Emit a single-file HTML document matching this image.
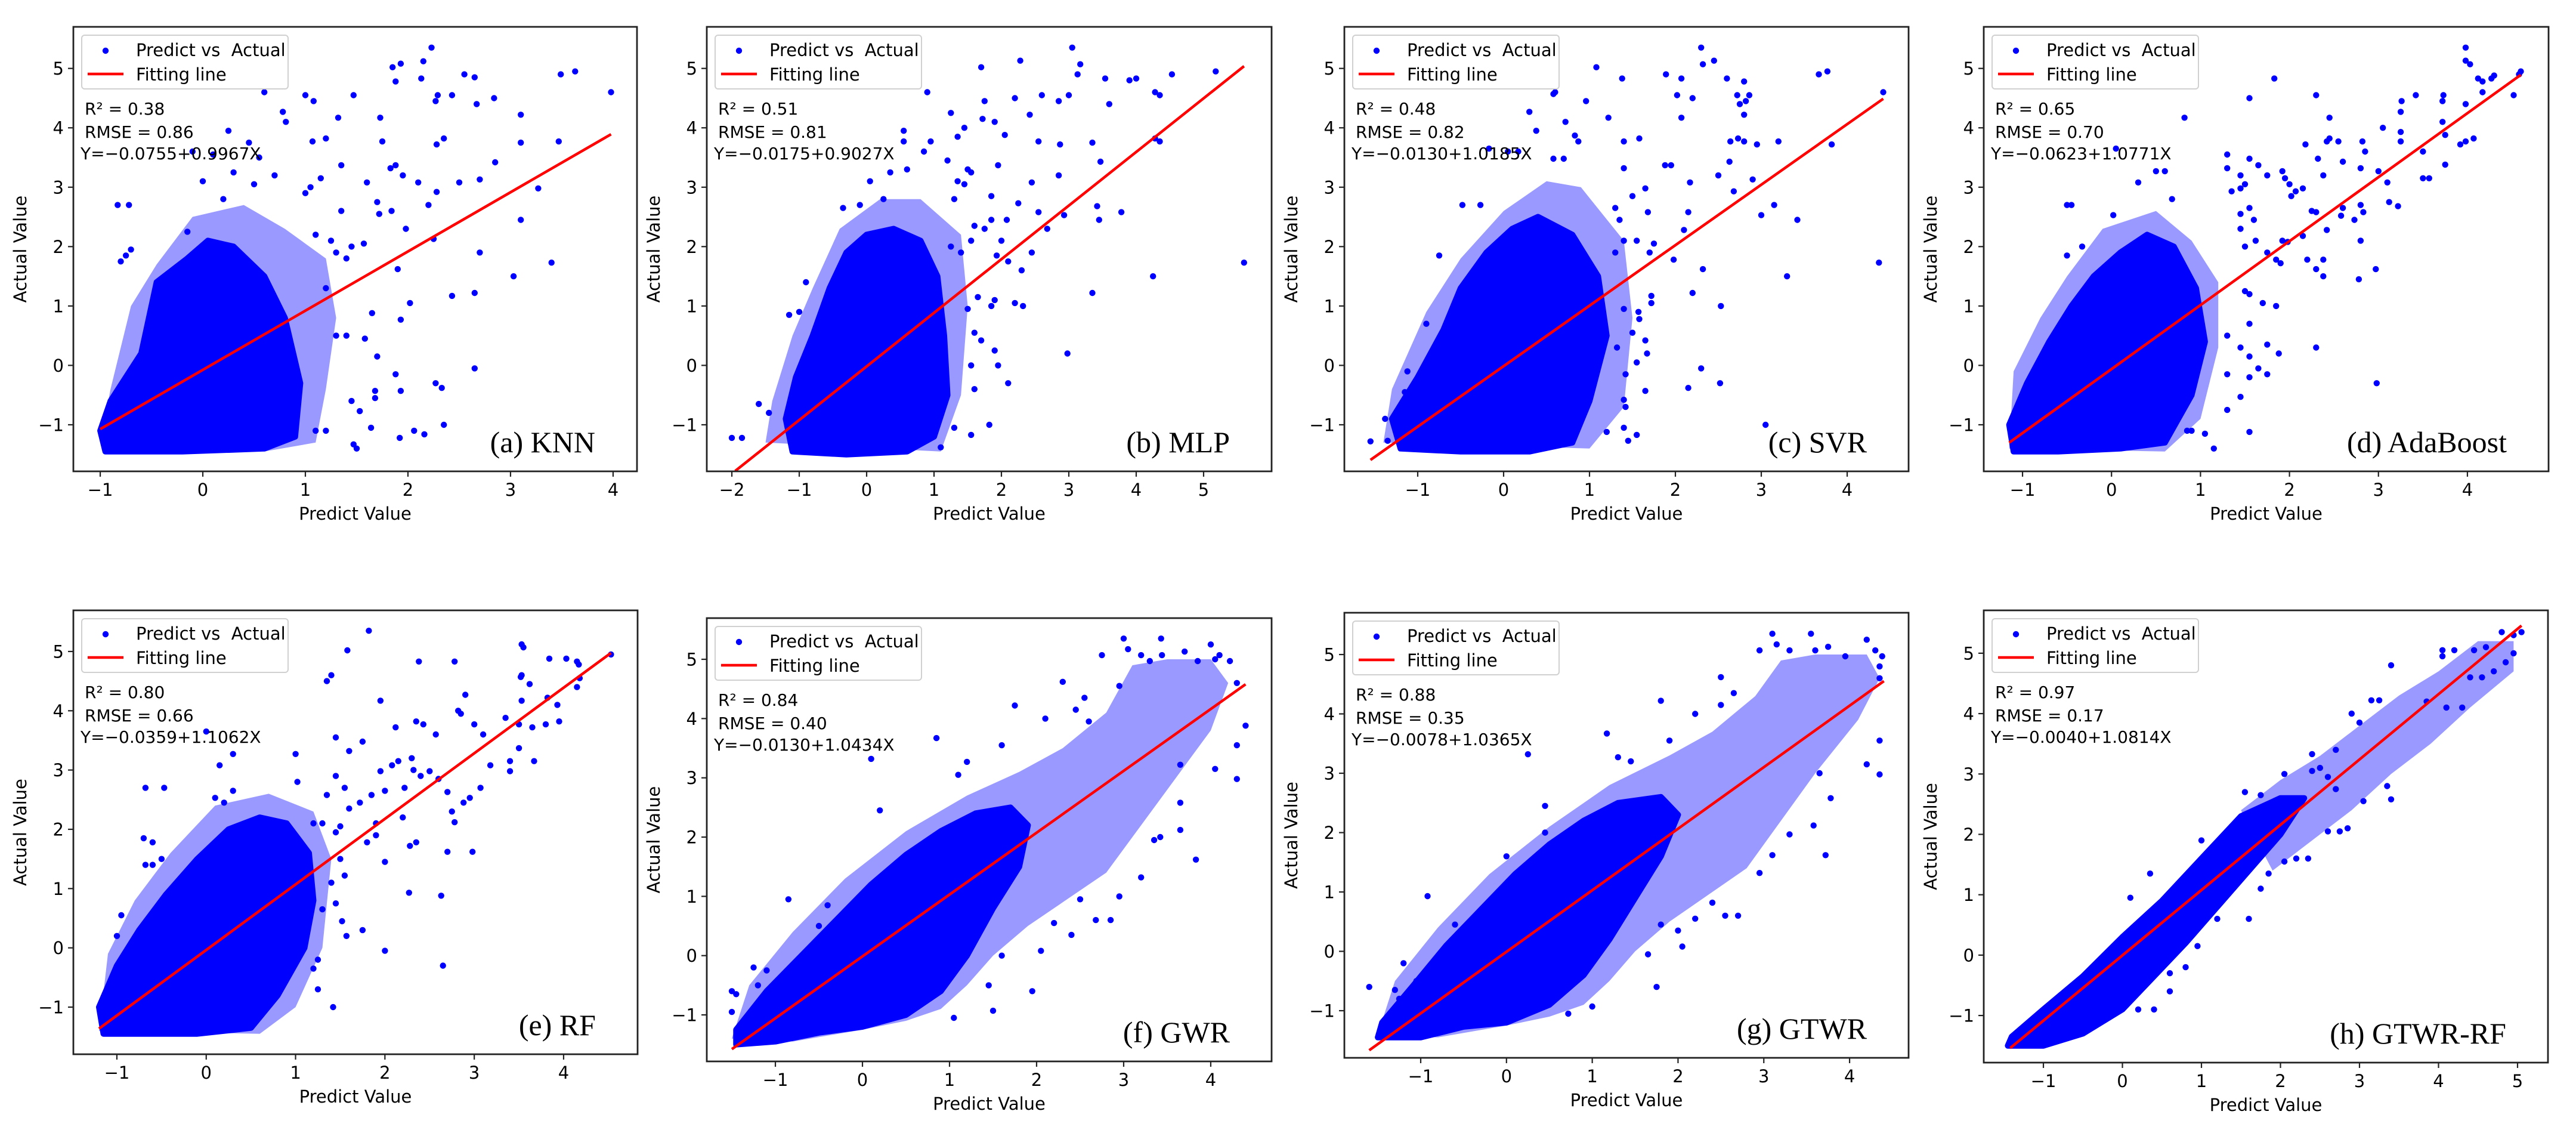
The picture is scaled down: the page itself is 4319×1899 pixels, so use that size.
<!DOCTYPE html>
<html><head><meta charset="utf-8"><title>Predict vs Actual scatter panels</title>
<style>
html,body{margin:0;padding:0;background:#fff;}
svg{display:block;}
text{font-family:"DejaVu Sans","Liberation Sans",sans-serif;fill:#000;}
.serif{font-family:"Liberation Serif","DejaVu Serif",serif;}
</style></head>
<body>
<svg id="fig" width="4319" height="1899" viewBox="0 0 4319 1899" xmlns="http://www.w3.org/2000/svg"></svg>
<script>
// ---------- data ----------
const yTicks = [-1,0,1,2,3,4,5];
const xTicksA = [-1,0,1,2,3,4];
const xTicksB = [-2,-1,0,1,2,3,4,5];
const xTicksH = [-1,0,1,2,3,4,5];

const knnFit = [-0.0755, 0.9967];
const knnFitRange = [-1.0, 3.98];
const knnCloud = [[-0.95,-1.45],[-1.0,-1.1],[-0.9,-0.6],[-0.6,0.2],[-0.45,1.4],[-0.15,1.8],[0.05,2.1],[0.3,2.0],[0.6,1.5],[0.8,0.8],[0.95,-0.3],[0.9,-1.2],[0.6,-1.4],[-0.2,-1.45]];
const knnHalo = [[-1.0,-1.3],[-0.9,-0.4],[-0.7,1.0],[-0.45,1.7],[-0.1,2.5],[0.4,2.7],[0.8,2.3],[1.2,1.8],[1.3,0.8],[1.2,-0.4],[1.1,-1.3],[0.6,-1.45]];
const knnPoints = [[-0.83,2.7],[-0.72,2.7],[-0.75,1.85],[-0.7,1.95],[-0.8,1.75],[0.6,4.6],[1.0,4.55],[1.08,4.45],[1.47,4.55],[1.85,5.02],[1.93,5.08],[1.88,4.78],[2.15,5.12],[2.23,5.35],[2.13,4.83],[2.27,4.45],[2.29,4.55],[2.43,4.55],[2.55,4.9],[2.65,4.85],[2.67,4.4],[2.84,4.5],[3.49,4.9],[3.63,4.95],[3.98,4.6],[0.78,4.27],[0.81,4.1],[1.32,4.17],[1.73,4.17],[1.75,3.77],[1.07,3.77],[1.2,3.82],[1.35,3.37],[2.35,3.82],[2.28,3.72],[3.1,4.22],[3.1,3.75],[3.47,3.77],[2.85,3.42],[1.83,3.32],[1.88,3.37],[1.95,3.2],[2.1,3.08],[2.5,3.08],[2.7,3.13],[3.27,2.98],[2.28,2.92],[1.6,3.08],[1.7,2.75],[1.72,2.55],[1.84,2.6],[2.2,2.7],[3.1,2.45],[1.98,2.3],[2.25,2.13],[2.7,1.9],[3.4,1.73],[3.03,1.5],[1.9,1.62],[1.57,2.05],[2.65,1.22],[2.43,1.17],[2.02,1.05],[1.65,0.88],[1.93,0.77],[1.58,0.45],[1.7,0.15],[1.88,-0.15],[1.93,-0.43],[2.27,-0.3],[2.33,-0.38],[2.65,-0.05],[1.68,-0.43],[1.68,-0.55],[1.45,-0.6],[1.53,-0.77],[1.64,-1.05],[1.92,-1.22],[2.06,-1.1],[2.16,-1.16],[2.35,-1.0],[1.47,-1.33],[1.5,-1.4],[1.1,-1.1],[1.2,-1.1],[1.3,0.5],[1.4,0.5],[1.2,1.3],[1.3,1.9],[1.4,1.8],[1.45,2.0],[1.1,2.2],[1.25,2.1],[1.0,2.9],[1.05,3.0],[1.15,3.15],[1.35,2.6],[0.7,3.2],[0.55,3.5],[0.45,3.75],[0.25,3.95],[0.3,3.25],[0.5,3.05],[-0.1,3.6],[0.1,3.55],[0.0,3.1],[0.2,2.8],[-0.15,2.25]];

const mlpFit = [-0.0175, 0.9027];
const mlpFitRange = [-1.95, 5.6];
const mlpCloud = [[-1.1,-1.45],[-1.2,-0.9],[-1.05,-0.2],[-0.8,0.5],[-0.55,1.3],[-0.3,1.9],[0.0,2.2],[0.4,2.3],[0.8,2.1],[1.05,1.5],[1.15,0.5],[1.2,-0.5],[1.0,-1.2],[0.6,-1.45],[-0.3,-1.5]];
const mlpHalo = [[-1.5,-1.3],[-1.4,-0.6],[-1.1,0.5],[-0.8,1.3],[-0.4,2.3],[0.2,2.8],[0.8,2.8],[1.4,2.2],[1.5,1.0],[1.4,-0.5],[1.1,-1.45]];
const mlpPoints = [[-2.0,-1.22],[-1.85,-1.22],[-1.6,-0.65],[-1.45,-0.8],[-1.15,0.85],[-1.0,0.9],[-0.9,1.4],[-0.35,2.65],[-0.1,2.7],[0.05,3.1],[0.25,2.8],[0.35,3.25],[0.55,3.95],[0.55,3.77],[0.6,3.3],[0.85,3.6],[0.9,4.6],[0.95,3.77],[1.25,4.25],[1.35,3.85],[1.45,4.0],[1.5,3.3],[1.7,5.02],[1.72,4.15],[1.75,4.45],[1.9,4.1],[1.95,3.37],[2.05,3.88],[2.2,4.5],[2.28,5.13],[2.42,4.22],[2.55,3.77],[2.6,4.55],[2.85,4.45],[2.87,3.72],[3.0,4.55],[3.05,5.35],[3.13,4.9],[3.17,5.07],[3.35,3.75],[3.47,3.43],[3.54,4.83],[3.6,4.4],[3.9,4.8],[4.0,4.83],[4.28,4.6],[4.35,4.55],[4.53,4.9],[5.18,4.95],[4.28,3.82],[4.35,3.77],[5.6,1.73],[4.25,1.5],[3.35,1.22],[3.78,2.58],[3.42,2.68],[3.45,2.45],[2.55,2.58],[2.85,3.2],[2.93,2.53],[2.68,2.3],[2.45,3.08],[2.25,2.73],[2.08,2.45],[2.0,2.1],[1.93,1.85],[2.1,1.75],[2.3,1.6],[2.45,1.9],[2.2,1.05],[2.32,1.0],[1.9,1.1],[1.85,1.0],[1.65,1.15],[1.6,0.55],[1.7,0.42],[1.55,0.0],[1.9,0.25],[1.95,0.0],[2.1,-0.3],[1.6,-0.4],[1.3,-1.05],[1.55,-1.17],[1.82,-1.0],[2.98,0.2],[1.1,-1.38],[1.5,0.95],[1.4,1.9],[1.55,2.1],[1.25,2.0],[1.6,2.35],[1.3,2.8],[1.2,3.45],[1.35,3.1],[1.45,3.05],[1.55,3.25],[1.75,2.3],[1.85,2.45],[1.85,2.85]];

const svrFit = [-0.0130, 1.0185];
const svrFitRange = [-1.55, 4.42];
const svrCloud = [[-1.2,-1.4],[-1.3,-0.9],[-1.0,-0.2],[-0.7,0.6],[-0.5,1.3],[-0.2,1.9],[0.1,2.3],[0.4,2.5],[0.8,2.2],[1.1,1.5],[1.2,0.5],[1.0,-0.6],[0.8,-1.3],[0.3,-1.45],[-0.5,-1.45]];
const svrHalo = [[-1.4,-1.3],[-1.3,-0.4],[-0.9,0.9],[-0.5,1.8],[0.0,2.6],[0.5,3.1],[0.9,3.0],[1.4,2.1],[1.5,0.8],[1.4,-0.7],[1.0,-1.4]];
const svrPoints = [[-1.55,-1.28],[-1.35,-1.27],[-1.38,-0.9],[-1.15,-0.45],[-1.12,-0.1],[-0.9,0.7],[-0.75,1.85],[-0.48,2.7],[-0.27,2.7],[-0.17,3.65],[0.05,3.6],[0.17,3.6],[0.3,4.27],[0.38,3.95],[0.58,4.57],[0.6,4.6],[0.58,3.48],[0.7,3.48],[0.72,4.1],[0.83,3.87],[0.87,3.77],[0.96,4.45],[1.08,5.02],[1.22,4.17],[1.38,4.83],[1.4,3.77],[1.4,3.32],[1.58,3.82],[1.5,2.85],[1.65,2.98],[1.68,2.58],[1.88,3.37],[1.95,3.37],[1.89,4.9],[2.02,4.55],[2.07,4.83],[2.07,4.17],[2.2,4.5],[2.3,5.35],[2.32,5.07],[2.45,5.13],[2.6,4.83],[2.5,3.2],[2.63,3.43],[2.64,3.77],[2.72,4.55],[2.75,4.4],[2.8,4.78],[2.8,4.22],[2.82,4.45],[2.86,4.55],[2.73,3.82],[2.8,3.77],[2.68,2.93],[2.9,3.13],[2.95,3.72],[3.0,2.53],[3.15,2.7],[3.2,3.77],[3.42,2.45],[3.67,4.9],[3.77,4.95],[3.82,3.72],[4.42,4.6],[4.37,1.73],[3.3,1.5],[2.32,1.62],[2.2,1.22],[2.53,1.0],[2.15,2.58],[2.1,2.28],[1.98,1.78],[2.17,3.08],[3.05,-1.0],[2.52,-0.3],[2.3,-0.05],[2.15,-0.38],[1.65,-0.43],[1.45,-1.27],[1.55,-1.17],[1.4,-1.05],[1.2,-1.12],[1.72,1.05],[1.72,1.17],[1.58,0.78],[1.57,0.9],[1.65,0.42],[1.67,0.2],[1.55,0.05],[1.42,-0.15],[1.4,-0.58],[1.42,-0.7],[1.32,0.3],[1.4,0.95],[1.5,0.55],[1.3,1.9],[1.4,2.1],[1.55,2.1],[1.7,1.9],[1.75,2.05],[1.35,2.45],[1.3,2.65]];

const adaFit = [-0.0623, 1.0771];
const adaFitRange = [-1.15, 4.6];
const adaCloud = [[-1.1,-1.45],[-1.15,-1.0],[-0.95,-0.3],[-0.7,0.4],[-0.45,1.0],[-0.2,1.5],[0.1,1.9],[0.4,2.2],[0.7,2.0],[0.95,1.3],[1.05,0.4],[0.9,-0.5],[0.6,-1.3],[0.1,-1.4],[-0.6,-1.45]];
const adaHalo = [[-1.15,-1.4],[-1.1,-0.1],[-0.8,0.8],[-0.5,1.5],[-0.1,2.3],[0.5,2.6],[0.9,2.1],[1.2,1.4],[1.2,0.3],[1.0,-0.9],[0.6,-1.45]];
const adaPoints = [[-0.5,2.7],[-0.45,2.7],[-0.33,2.0],[-0.5,1.85],[0.02,2.53],[0.3,3.08],[0.5,3.27],[0.6,3.27],[0.68,2.8],[0.82,4.17],[0.05,3.65],[1.3,3.55],[1.3,3.32],[1.35,2.93],[1.45,3.2],[1.45,2.98],[1.5,3.05],[1.55,3.48],[1.55,4.5],[1.65,3.37],[1.75,3.2],[1.83,4.83],[1.92,3.27],[1.95,3.15],[2.0,3.05],[2.02,2.85],[2.07,2.93],[2.15,2.98],[2.3,4.55],[2.32,3.48],[2.38,3.2],[2.45,4.17],[2.45,3.82],[2.42,3.77],[2.55,3.77],[2.6,3.43],[2.18,3.72],[2.8,3.32],[2.82,3.77],[2.85,3.6],[3.05,4.0],[3.0,3.27],[3.1,3.08],[3.25,4.27],[3.26,4.45],[3.25,3.93],[3.25,3.77],[3.42,4.55],[3.5,3.6],[3.5,3.15],[3.57,3.15],[3.72,4.45],[3.73,4.55],[3.72,4.1],[3.75,3.88],[3.75,3.38],[3.92,3.72],[3.98,3.77],[3.98,4.4],[3.98,5.35],[3.98,5.13],[4.03,5.07],[4.07,3.82],[4.12,4.83],[4.17,4.78],[4.17,4.6],[4.27,4.83],[4.3,4.88],[4.52,4.55],[4.6,4.95],[4.58,4.9],[3.12,2.75],[3.22,2.68],[2.8,2.7],[2.83,2.58],[2.73,2.45],[2.58,2.52],[2.6,2.65],[2.3,2.58],[2.25,2.6],[2.42,2.28],[1.98,2.08],[1.92,2.1],[2.15,2.18],[2.2,1.78],[2.38,1.78],[2.3,1.62],[2.38,1.5],[2.78,1.45],[2.8,2.1],[2.97,1.62],[1.9,1.72],[1.85,1.78],[1.75,1.9],[1.5,1.25],[1.55,1.2],[1.7,1.05],[1.85,1.0],[1.45,2.3],[1.45,2.55],[1.5,2.0],[1.55,2.65],[1.6,2.45],[1.62,2.1],[2.3,0.3],[2.98,-0.3],[1.88,0.2],[1.75,0.35],[1.55,0.7],[1.3,0.5],[1.45,0.3],[1.55,0.15],[1.65,-0.05],[1.75,-0.15],[1.55,-0.2],[1.3,-0.15],[1.3,-0.75],[1.45,-0.53],[1.55,-1.12],[1.15,-1.4],[1.05,-1.15],[0.85,-1.1],[0.9,-1.1]];

const rfFit = [-0.0359, 1.1062];
const rfFitRange = [-1.2, 4.53];
const rfCloud = [[-1.15,-1.45],[-1.2,-1.0],[-1.0,-0.3],[-0.75,0.3],[-0.45,0.9],[-0.1,1.5],[0.25,2.0],[0.6,2.2],[0.9,2.1],[1.15,1.6],[1.2,0.8],[1.1,0.0],[0.8,-0.8],[0.5,-1.35],[-0.1,-1.45],[-0.7,-1.45]];
const rfHalo = [[-1.2,-1.4],[-1.1,-0.1],[-0.8,0.8],[-0.4,1.6],[0.1,2.4],[0.7,2.6],[1.2,2.3],[1.4,1.5],[1.3,0.0],[1.0,-1.0],[0.6,-1.45]];
const rfPoints = [[-0.68,2.7],[-0.47,2.7],[-0.7,1.85],[-0.6,1.78],[-0.68,1.4],[-0.6,1.4],[-0.5,1.5],[-1.0,0.2],[-0.95,0.55],[0.0,3.65],[0.15,3.08],[0.3,3.27],[0.3,2.65],[0.1,2.53],[0.2,2.45],[1.0,3.27],[1.02,2.8],[1.35,4.5],[1.4,4.6],[1.45,3.55],[1.58,5.02],[1.6,3.32],[1.75,3.48],[1.82,5.35],[1.95,4.17],[2.12,3.72],[2.35,3.82],[2.38,4.83],[2.43,3.77],[2.57,3.6],[2.78,4.83],[2.82,4.0],[2.85,3.95],[2.9,4.27],[3.0,3.77],[3.1,3.6],[3.35,3.88],[3.5,3.77],[3.52,4.57],[3.53,4.6],[3.53,5.12],[3.55,5.07],[3.53,4.17],[3.62,4.45],[3.65,3.72],[3.8,3.77],[3.82,4.22],[3.84,4.88],[3.93,4.1],[3.95,3.82],[4.03,4.88],[4.15,4.83],[4.17,4.78],[4.15,4.4],[4.18,4.55],[4.53,4.95],[3.4,3.15],[3.4,2.98],[3.5,3.37],[3.67,3.15],[3.18,3.08],[2.15,3.15],[2.08,3.08],[2.0,2.65],[1.95,2.98],[2.3,3.2],[2.32,3.0],[2.4,2.9],[2.5,2.98],[2.22,2.7],[2.6,2.85],[2.7,2.63],[2.75,2.3],[2.78,2.12],[2.88,2.45],[2.95,2.53],[2.7,1.62],[2.98,1.62],[3.07,2.7],[2.28,1.72],[2.35,1.78],[2.2,2.2],[1.9,2.1],[1.85,2.58],[1.72,2.45],[1.6,2.35],[2.0,1.45],[1.9,1.9],[1.8,1.78],[2.27,0.93],[2.63,0.88],[2.65,-0.3],[2.0,-0.05],[1.75,0.3],[1.57,0.2],[1.52,0.45],[1.45,0.75],[1.5,1.5],[1.55,1.22],[1.4,1.1],[1.42,-1.0],[1.25,-0.7],[1.2,-0.35],[1.25,-0.2],[1.3,0.65],[1.35,2.58],[1.3,2.1],[1.2,2.1],[1.45,1.95],[1.5,2.05],[1.55,2.7],[1.45,2.9]];

const gwrFit = [-0.0130, 1.0434];
const gwrFitRange = [-1.5, 4.4];
const gwrCloud = [[-1.45,-1.5],[-1.45,-1.25],[-1.1,-0.6],[-0.7,0.0],[-0.3,0.6],[0.1,1.2],[0.5,1.7],[0.9,2.1],[1.3,2.4],[1.7,2.5],[1.9,2.2],[1.8,1.5],[1.5,0.8],[1.2,0.0],[0.9,-0.6],[0.5,-1.0],[0.0,-1.2],[-0.5,-1.3],[-1.0,-1.45]];
const gwrHalo = [[-1.5,-1.4],[-1.3,-0.5],[-0.8,0.4],[-0.2,1.3],[0.5,2.1],[1.2,2.7],[1.8,3.1],[2.3,3.5],[2.8,4.1],[3.1,4.9],[3.5,5.0],[4.0,5.0],[4.2,4.6],[4.0,3.8],[3.6,3.0],[3.2,2.2],[2.8,1.4],[2.3,0.9],[1.9,0.5],[1.5,0.0],[1.2,-0.5],[0.9,-0.9],[0.5,-1.1],[0.0,-1.25],[-0.8,-1.45]];
const gwrPoints = [[-1.5,-0.6],[-1.45,-0.65],[-1.5,-0.95],[-1.2,-0.5],[-1.25,-0.2],[-1.1,-0.25],[-0.85,0.95],[-0.4,0.85],[-0.5,0.5],[0.1,3.32],[0.2,2.45],[0.85,3.67],[1.2,3.27],[1.1,3.05],[1.75,4.22],[1.6,3.55],[2.1,4.0],[2.3,4.62],[2.45,4.15],[2.55,4.35],[2.6,3.95],[2.75,5.07],[2.95,4.55],[3.0,5.35],[3.05,5.17],[3.2,5.07],[3.3,4.97],[3.43,5.35],[3.44,5.07],[3.7,5.13],[3.85,4.97],[4.0,5.25],[4.05,5.0],[4.1,5.07],[4.22,4.97],[4.3,4.6],[4.4,3.88],[4.3,3.55],[4.3,2.98],[4.05,3.15],[3.65,3.22],[3.65,2.58],[3.65,2.12],[3.83,1.62],[3.35,1.95],[3.42,2.0],[3.2,1.32],[2.95,1.0],[2.85,0.6],[2.68,0.6],[2.05,0.08],[1.95,-0.6],[1.5,-0.93],[1.05,-1.05],[1.45,-0.5],[1.6,0.0],[2.4,0.35],[2.2,0.55],[2.5,0.95]];

const gtwrFit = [-0.0078, 1.0365];
const gtwrFitRange = [-1.6, 4.4];
const gtwrCloud = [[-1.5,-1.45],[-1.45,-1.2],[-1.1,-0.6],[-0.7,0.1],[-0.3,0.7],[0.1,1.3],[0.5,1.8],[0.9,2.2],[1.3,2.5],[1.8,2.6],[2.0,2.3],[1.8,1.6],[1.5,0.9],[1.2,0.2],[0.9,-0.4],[0.5,-0.9],[0.0,-1.2],[-0.5,-1.27],[-1.0,-1.45]];
const gtwrHalo = [[-1.5,-1.4],[-1.3,-0.5],[-0.8,0.4],[-0.2,1.3],[0.5,2.1],[1.2,2.8],[1.9,3.3],[2.4,3.7],[2.9,4.3],[3.2,4.9],[3.6,5.0],[4.2,5.0],[4.35,4.6],[4.1,3.9],[3.6,3.0],[3.2,2.2],[2.8,1.4],[2.3,0.9],[1.9,0.5],[1.5,0.0],[1.2,-0.5],[0.9,-0.9],[0.5,-1.1],[0.0,-1.25],[-0.8,-1.45]];
const gtwrPoints = [[-1.6,-0.6],[-1.3,-0.65],[-1.25,-0.8],[-1.2,-0.2],[-1.05,-0.5],[-0.92,0.93],[-0.6,0.45],[0.25,3.32],[0.45,2.45],[0.45,2.0],[0.0,1.6],[1.17,3.67],[1.3,3.27],[1.45,3.2],[1.8,4.22],[1.9,3.55],[2.2,4.0],[2.5,4.62],[2.5,4.15],[2.65,4.35],[2.95,5.07],[3.1,5.35],[3.15,5.17],[3.3,5.07],[3.55,5.35],[3.6,5.07],[3.75,5.13],[3.95,4.97],[4.2,5.25],[4.3,5.07],[4.35,4.8],[4.38,4.97],[4.35,4.6],[4.35,3.55],[4.2,3.15],[4.35,2.98],[3.65,3.0],[3.78,2.58],[3.58,2.12],[3.72,1.62],[3.3,1.97],[3.1,1.62],[2.95,1.32],[2.7,0.6],[2.55,0.6],[2.4,0.82],[2.05,0.08],[1.75,-0.6],[1.0,-0.93],[0.72,-1.05],[1.65,-0.05],[2.2,0.55],[2.0,0.35],[1.8,0.45]];

const gtwrrfFit = [-0.0040, 1.0814];
const gtwrrfFitRange = [-1.42, 5.05];
const gtwrrfCloud = [[-1.45,-1.5],[-1.4,-1.35],[-1.0,-0.9],[-0.5,-0.35],[0.0,0.3],[0.5,0.9],[1.0,1.6],[1.5,2.3],[2.0,2.6],[2.3,2.6],[2.0,2.0],[1.6,1.4],[1.2,0.8],[0.8,0.2],[0.4,-0.35],[0.0,-0.9],[-0.5,-1.3],[-1.0,-1.5]];
const gtwrrfHalo = [[1.5,2.4],[2.0,2.9],[2.5,3.3],[3.0,3.8],[3.5,4.3],[4.0,4.7],[4.5,5.2],[4.95,5.2],[4.95,4.7],[4.4,4.1],[3.9,3.5],[3.4,3.0],[2.9,2.4],[2.4,1.9],[1.9,1.4]];
const gtwrrfPoints = [[3.4,4.8],[4.05,5.05],[4.05,4.95],[4.2,5.05],[4.45,5.05],[4.6,5.1],[4.8,5.35],[4.95,5.3],[5.05,5.35],[4.95,5.0],[4.85,4.85],[4.7,4.7],[4.55,4.6],[4.4,4.6],[4.1,4.1],[4.3,4.1],[3.85,4.2],[3.15,4.22],[3.25,4.22],[2.9,4.0],[3.0,3.85],[2.7,3.4],[2.4,3.33],[2.5,3.1],[2.6,2.95],[2.7,2.75],[3.4,2.58],[3.35,2.8],[3.05,2.55],[2.75,2.05],[2.85,2.1],[2.6,2.05],[2.35,1.6],[2.2,1.6],[2.05,1.55],[1.85,1.35],[1.75,1.1],[1.6,0.6],[1.2,0.6],[0.95,0.15],[0.8,-0.2],[0.6,-0.6],[0.4,-0.9],[0.6,-0.3],[0.2,-0.9],[1.0,1.9],[1.55,2.7],[1.75,2.65],[2.05,3.0],[2.4,3.05],[0.35,1.35],[0.1,0.95],[0.3,0.6],[-0.3,-1.05],[-0.5,-1.2],[-0.7,-1.35]];

// ---------- layout (pixel boxes & axis domains) ----------
const panels = [
 {id:'knn', label:'(a) KNN', box:[123,45,1068,790], xd:[-1.262,4.233], yd:[-1.784,5.70], xt:xTicksA, fit:knnFit, fr:knnFitRange, cloud:knnCloud, halo:knnHalo, pts:knnPoints, r2:'0.38', rmse:'0.86', eq:'Y=\u22120.0755+0.9967X'},
 {id:'mlp', label:'(b) MLP', box:[1185,45,2132,790], xd:[-2.372,6.009], yd:[-1.784,5.70], xt:xTicksB, fit:mlpFit, fr:mlpFitRange, cloud:mlpCloud, halo:mlpHalo, pts:mlpPoints, r2:'0.51', rmse:'0.81', eq:'Y=\u22120.0175+0.9027X'},
 {id:'svr', label:'(c) SVR', box:[2254,45,3200,790], xd:[-1.854,4.715], yd:[-1.784,5.70], xt:xTicksA, fit:svrFit, fr:svrFitRange, cloud:svrCloud, halo:svrHalo, pts:svrPoints, r2:'0.48', rmse:'0.82', eq:'Y=\u22120.0130+1.0185X'},
 {id:'adaboost', label:'(d) AdaBoost', box:[3326,45,4273,790], xd:[-1.436,4.912], yd:[-1.784,5.70], xt:xTicksA, fit:adaFit, fr:adaFitRange, cloud:adaCloud, halo:adaHalo, pts:adaPoints, r2:'0.65', rmse:'0.70', eq:'Y=\u22120.0623+1.0771X'},
 {id:'rf', label:'(e) RF', box:[123,1023,1069,1767], xd:[-1.487,4.828], yd:[-1.795,5.694], xt:xTicksA, fit:rfFit, fr:rfFitRange, cloud:rfCloud, halo:rfHalo, pts:rfPoints, r2:'0.80', rmse:'0.66', eq:'Y=\u22120.0359+1.1062X'},
 {id:'gwr', label:'(f) GWR', box:[1185,1036,2132,1779], xd:[-1.788,4.699], yd:[-1.785,5.695], xt:xTicksA, fit:gwrFit, fr:gwrFitRange, cloud:gwrCloud, halo:gwrHalo, pts:gwrPoints, r2:'0.84', rmse:'0.40', eq:'Y=\u22120.0130+1.0434X'},
 {id:'gtwr', label:'(g) GTWR', box:[2254,1027,3200,1773], xd:[-1.890,4.688], yd:[-1.794,5.704], xt:xTicksA, fit:gtwrFit, fr:gtwrFitRange, cloud:gtwrCloud, halo:gtwrHalo, pts:gtwrPoints, r2:'0.88', rmse:'0.35', eq:'Y=\u22120.0078+1.0365X'},
 {id:'gtwr-rf', label:'(h) GTWR-RF', box:[3326,1023,4272,1781], xd:[-1.755,5.385], yd:[-1.78,5.71], xt:xTicksH, fit:gtwrrfFit, fr:gtwrrfFitRange, cloud:gtwrrfCloud, halo:gtwrrfHalo, pts:gtwrrfPoints, r2:'0.97', rmse:'0.17', eq:'Y=\u22120.0040+1.0814X'}
];

const NS='http://www.w3.org/2000/svg';
const fig=document.getElementById('fig');
function mk(tag,attrs,parent){const e=document.createElementNS(NS,tag);for(const k in attrs)e.setAttribute(k,attrs[k]);(parent||fig).appendChild(e);return e;}

panels.forEach(p=>{
  const [L,T,R,B]=p.box;
  const sx=v=>L+(v-p.xd[0])/(p.xd[1]-p.xd[0])*(R-L);
  const sy=v=>B-(v-p.yd[0])/(p.yd[1]-p.yd[0])*(B-T);
  const g=mk('g',{});
  
  
  const clipId='clip-'+p.id;
  const cp=mk('clipPath',{id:clipId},g); mk('rect',{x:L,y:T,width:R-L,height:B-T},cp);
  const plot=mk('g',{'clip-path':'url(#'+clipId+')'},g);
  
  
  const toPts=a=>a.map(q=>sx(q[0]).toFixed(1)+','+sy(q[1]).toFixed(1)).join(' ');
  const halo=mk('polygon',{points:toPts(p.halo),fill:'#0000ff','fill-opacity':'0.4',stroke:'none'},plot);
  
  
  const cloud=mk('polygon',{points:toPts(p.cloud),fill:'#0000ff',stroke:'#0000ff','stroke-width':'10','stroke-linejoin':'round'},plot);
  
  
  p.pts.forEach(q=>{
    const c=mk('circle',{cx:sx(q[0]).toFixed(1),cy:sy(q[1]).toFixed(1),r:5.2,fill:'#0000ff'},plot);
    
    
  });
  const fx0=p.fr[0], fx1=p.fr[1];
  const fl=mk('line',{x1:sx(fx0),y1:sy(p.fit[0]+p.fit[1]*fx0),x2:sx(fx1),y2:sy(p.fit[0]+p.fit[1]*fx1),stroke:'#ff0000','stroke-width':'4.5'},plot);
  
  
  const fr=mk('rect',{x:L,y:T,width:R-L,height:B-T,fill:'none',stroke:'#222','stroke-width':'2.8'},g);
  
  
  p.xt.forEach(v=>{
    const x=sx(v);
    mk('line',{x1:x,y1:B,x2:x,y2:B+9,stroke:'#222','stroke-width':'2.2'},g);
    const t=mk('text',{x:x,y:B+41,'text-anchor':'middle','font-size':'29'},g);
    t.textContent=v<0?'\u2212'+Math.abs(v):String(v);
    
    
  });
  yTicks.forEach(v=>{
    const y=sy(v);
    mk('line',{x1:L-9,y1:y,x2:L,y2:y,stroke:'#222','stroke-width':'2.2'},g);
    const t=mk('text',{x:L-16,y:y+10.5,'text-anchor':'end','font-size':'29'},g);
    t.textContent=v<0?'\u2212'+Math.abs(v):String(v);
    
    
  });
  const xl=mk('text',{x:(L+R)/2,y:B+81,'text-anchor':'middle','font-size':'29'},g);
  xl.textContent='Predict Value';
  
  
  const yc=(T+B)/2;
  const yl=mk('text',{x:L-79,y:yc,'text-anchor':'middle','font-size':'29',transform:'rotate(-90 '+(L-79)+' '+yc+')'},g);
  yl.textContent='Actual Value';
  
  
  const lg=mk('g',{},g);
  
  
  mk('rect',{x:L+14,y:T+14,width:346,height:90,rx:5,fill:'#fff','fill-opacity':'0.85',stroke:'#d0d0d0','stroke-width':'2'},lg);
  mk('circle',{cx:L+54,cy:T+40,r:5.2,fill:'#0000ff'},lg);
  const l1=mk('text',{x:L+105,y:T+49,'font-size':'29'},lg);
  l1.textContent='Predict vs  Actual';
  
  
  l1.style.whiteSpace='pre';
  mk('line',{x1:L+24,y1:T+79,x2:L+84,y2:T+79,stroke:'#ff0000','stroke-width':'4.5'},lg);
  const l2=mk('text',{x:L+105,y:T+90,'font-size':'29'},lg);
  l2.textContent='Fitting line';
  
  
  const s1=mk('text',{x:L+19,y:T+147,'font-size':'28'},g);
  s1.textContent='R\u00b2 = '+p.r2;
  
  
  const s2=mk('text',{x:L+19,y:T+186,'font-size':'28'},g);
  s2.textContent='RMSE = '+p.rmse;
  
  
  const s3=mk('text',{x:L+12,y:T+222,'font-size':'28'},g);
  s3.textContent=p.eq;
  
  
  const pl=mk('text',{x:R-70,y:B-32,'text-anchor':'end','font-size':'50',class:'serif'},g);
  pl.textContent=p.label;
  
  
});
</script>
</body></html>
